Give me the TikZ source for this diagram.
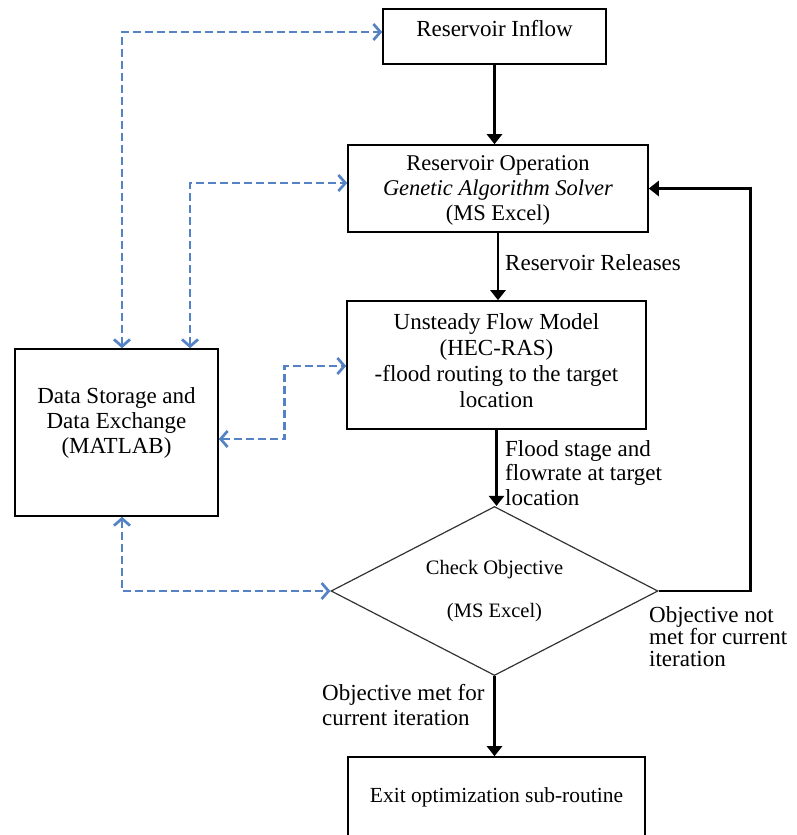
\documentclass[tikz,border=0pt]{standalone}
\usepackage{fontspec}
\setmainfont{Liberation Serif}
\usetikzlibrary{arrows.meta,shapes.geometric}
\definecolor{linkblue}{RGB}{84,130,196}
\begin{document}
\begin{tikzpicture}[x=1pt,y=-1pt,
  every node/.style={font=\fontsize{23}{25}\selectfont},
  box/.style={draw=black, line width=1.6pt, rectangle, inner sep=0pt},
  decision/.style={draw=black!80, line width=1.2pt, diamond, inner sep=0pt},
  txt/.style={align=center, inner sep=0pt},
  flow/.style={line width=2.8pt, -{Triangle[length=10pt,width=15pt]}},
  link/.style={draw=linkblue, line width=2.7pt, dash pattern=on 8pt off 4pt,
    {Straight Barb[length=7pt,width=16pt]}-{Straight Barb[length=7pt,width=16pt]}},
  note/.style={align=left, inner sep=0pt, anchor=west}
]
\useasboundingbox (0,0) rectangle (797,835);

% process boxes
\node[box, minimum width=223pt, minimum height=55pt] (inflow) at (494.5,36.5) {};
\node[txt] (inflowtxt) at (494.5,29) {Reservoir Inflow};

\node[box, minimum width=300pt, minimum height=87pt] (resop) at (498,188.5) {};
\node[txt, font=\fontsize{22.5}{25}\selectfont] (resoptxt) at (498,190)
  {Reservoir Operation\\\textit{Genetic Algorithm Solver}\\(MS Excel)};

\node[box, minimum width=299pt, minimum height=128pt] (unsteady) at (496.5,365) {};
\node[txt, font=\fontsize{23}{26}\selectfont] (unsteadytxt) at (496.5,361)
  {Unsteady Flow Model\\(HEC-RAS)\\-flood routing to the target\\location};

\node[box, minimum width=203pt, minimum height=167pt] (ds) at (116.5,432.5) {};
\node[txt] (dstxt) at (116.5,423) {Data Storage and\\Data Exchange\\(MATLAB)};

\node[decision, minimum width=327pt, minimum height=169pt] (diam) at (494.5,591) {};
\node[txt, font=\fontsize{20.5}{43}\selectfont] (diamtxt) at (494.5,591) {Check Objective\\(MS Excel)};

\node[box, minimum width=297pt, minimum height=100pt] (exit) at (496.5,807) {};
\node[txt, font=\fontsize{21.5}{25}\selectfont] (exittxt) at (496.5,797) {Exit optimization sub-routine};

% main flow
\draw[flow] (inflow.south) -- (inflow.south |- resop.north);
\draw[flow] (resop.south) -- (resop.south |- unsteady.north);
\draw[flow] (unsteady.south) -- (unsteady.south |- diam.north);
\draw[flow] (diam.south) -- (diam.south |- exit.north);
\draw[flow] (diam.east) -- ++(92,0) |- (resop.east);

% data exchange links
\draw[link] ([xshift=5.5pt]ds.north) |- ([yshift=4.5pt]inflow.west);
\draw[link] ([xshift=73.5pt]ds.north) |- ([yshift=5.5pt]resop.west);
\draw[link] ([yshift=-6.5pt]ds.east) -- ++(66,0) |- ([yshift=-1pt]unsteady.west);
\draw[link] ([xshift=5.5pt]ds.south) |- (diam.west);

% edge labels
\node[note] (lblrel) at (505,263) {Reservoir Releases};
\node[note, font=\fontsize{23}{24.5}\selectfont] (lblflood) at (505,473) {Flood stage and\\flowrate at target\\location};
\node[note, font=\fontsize{23}{22}\selectfont] (lblnot) at (649,637) {Objective not\\met for current\\iteration};
\node[note] (lblmet) at (322,705) {Objective met for\\current iteration};
\end{tikzpicture}
\end{document}
